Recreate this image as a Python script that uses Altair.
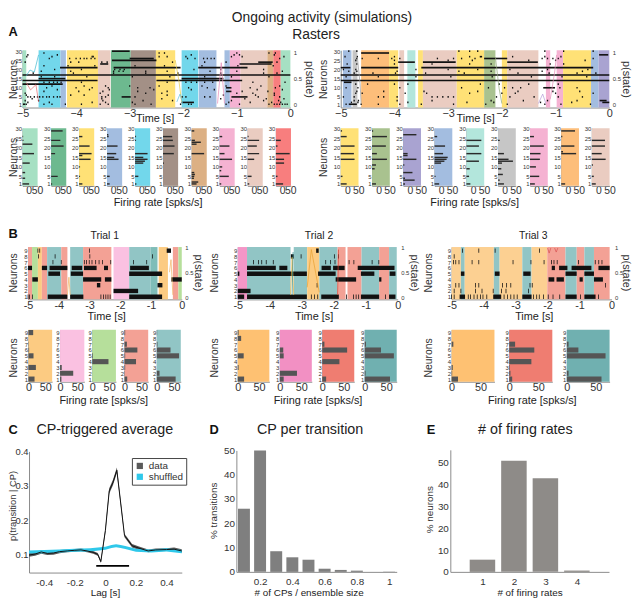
import altair as alt
import pandas as pd

W, H = 632, 593
FONT = "Liberation Sans"
TXT = "#333333"
AXC = "#8a8a8a"

MINT, GREEN, YEL, BLUE, CYAN = "#A6E0C3", "#6DB98F", "#FFE176", "#A3BDE0", "#72D7EB"
BROWN, TAN, PINK, PEACH, RED = "#A39086", "#DCB084", "#F5B2D2", "#EACCC1", "#F87E7E"
ORG, OLIVE, PURP, GRAY = "#FDBE7A", "#A9C28F", "#A9A3D1", "#C6C6C6"
AQUA = "#B3E6DC"
TEAL, SALM, BPINK, BGRN, BORG = "#91C5C5", "#F3A195", "#FAC1E1", "#B6DF9B", "#FCCB82"
PINK2, ORG3 = "#F496C7", "#FCD092"
HORG, HPINK, HRED, HTEAL = "#FEC172", "#F290C3", "#EF7D71", "#70B0B0"

# ---------- Panel A rasters ----------
AL_EDGES = [-5, -4.93, -4.70, -4.29, -4.19, -4.17, -3.59, -3.36, -3.35, -2.98, -2.51, -2.15, -2.03, -1.72, -1.71, -1.38, -1.23, -1.13, -0.93, -0.43, -0.32, -0.18, 0]
AL_COLORS = [MINT, None, CYAN, BLUE, None, YEL, PEACH, None, GREEN, BROWN, YEL, None, CYAN, None, BLUE, None, BLUE, PINK, PEACH, TAN, RED, MINT]
AL_RUNS = [(17, -5, 0), (15, -4.7, -4.2), (15, -2.03, -1.25), (14, -5, -3.6), (14, -2.5, -0.9), (12, -5, -4.25),
           (21, -4.3, -3.6), (21, -3.3, -2.05), (21, -1.72, -0.8), (25, -3.33, -2.5), (26, -3.0, -2.55),
           (23, -3.55, -3.4), (23, -0.95, -0.35), (24, -0.6, -0.33), (30, -3.33, -3.0), (5, -3.15, -2.98),
           (5, -1.1, -0.8), (2, -2.03, -1.8), (8, -1.2, -1.1), (10, -1.2, -1.1)]
AL_DOTS = {
    1: [-4.98, -4.96, -4.93, -4.6, -4.45, -4.2, -3.9, -3.55, -3.4, -2.9, -2.6, -2.05, -1.9, -1.85, -1.2, -0.95, -0.4, -0.3, -0.25, -0.2, -0.15, -0.1, -0.06],
    2: [-4.9, -4.5, -3.7, -3.45, -2.95, -1.15, -0.75, -0.35, -0.18],
    3: [-4.95, -4.7, -3.5, -2.75, -2.2, -1.1, -0.5, -0.22],
    4: [-4.82, -3.52, -2.4, -1.3, -0.85, -0.45, -0.12],
    5: [-4.9, -4.85, -4.78, -4.72, -4.68, -4.62, -4.55, -4.5, -4.42, -4.35, -4.3, -3.52, -3.45, -2.9, -2.02, -1.95, -1.6, -1.5, -0.6, -0.2],
    6: [-4.93, -4.1, -3.85, -3.4, -2.3, -1.25, -0.65, -0.3],
    7: [-4.95, -3.55, -2.7, -2.4, -1.0, -0.7, -0.3],
    8: [-4.6, -3.95, -3.5, -2.85, -2.3, -0.9, -0.42],
    9: [-4.35, -3.75, -3.38, -2.55, -1.85, -1.42, -0.62, -0.15],
    10: [-4.55, -4.0, -3.7, -3.4, -2.85, -2.62, -1.9, -1.55, -0.75, -0.28],
    11: [-4.45, -3.85, -3.45, -3.0, -2.45, -1.65, -1.2, -0.55, -0.2],
    13: [-4.6, -4.5, -4.42, -4.35, -4.28, -3.9, -2.3, -1.95, -1.85, -1.75, -1.6, -1.45, -0.7, -0.1],
    16: [-4.65, -4.4, -3.8, -2.95, -2.25, -1.6, -1.1, -0.4],
    18: [-4.8, -4.05, -3.3, -2.7, -2.1, -1.3, -0.5, -0.25],
    19: [-4.65, -4.1, -3.3, -3.2, -3.12, -2.7, -2.3, -1.5, -1.0, -0.15],
    20: [-4.4, -3.9, -3.28, -3.18, -3.1, -1.8, -1.3, -0.5],
    22: [-4.6, -4.15, -3.65, -2.9, -2.35, -1.65, -0.98, -0.32],
    24: [-4.95, -4.1, -3.95, -3.52, -3.42, -2.2, -1.6, -1.2, -0.25],
    26: [-4.5, -4.12, -4.0, -3.92, -3.85, -3.8, -3.72, -3.65, -1.92, -1.78, -1.62, -1.55, -1.48, -1.42, -0.2],
    27: [-4.92, -4.45, -3.7, -3.68, -2.45, -2.3, -1.95, -1.1, -0.9, -0.12],
    28: [-4.9, -4.35, -1.85, -1.05, -0.95, -0.3],
    29: [-4.6, -2.45, -2.35, -1.0, -0.4, -0.28],
}
AL_P = [("a", -4.93, 0.55, "#3BB8D0"), ("a", -4.86, 0.66, "#3BB8D0"), ("a", -4.78, 0.62, "#3BB8D0"), ("a", -4.70, 0.95, "#3BB8D0"),
        ("b", -4.93, 0.42, "#E0686C"), ("b", -4.85, 0.28, "#E0686C"), ("b", -4.75, 0.38, "#E0686C"), ("b", -4.70, 0.05, "#E0686C"),
        ("c", -2.15, 0.85, "#E8C840"), ("c", -2.08, 0.45, "#E8C840"), ("c", -2.03, 0.05, "#E8C840"),
        ("d", -2.12, 0.05, "#5FC0DC"), ("d", -2.06, 0.2, "#5FC0DC"), ("d", -2.01, 0.02, "#5FC0DC"),
        ("e", -1.36, 0.02, "#E889B8"), ("e", -1.29, 0.8, "#E889B8"), ("e", -1.23, 0.02, "#E889B8")]

AR_EDGES = [-4.96, -4.80, -4.78, -4.69, -4.62, -4.10, -3.93, -3.91, -3.82, -3.76, -3.61, -3.56, -3.47, -2.84, -2.33, -2.12, -2.0, -1.9, -1.32, -1.18, -1.10, -0.98, -0.86, -0.34, -0.20, 0]
AR_COLORS = [BLUE, None, GRAY, None, ORG, YEL, None, PEACH, None, AQUA, None, YEL, PEACH, YEL, OLIVE, None, YEL, PEACH, None, PINK, None, PINK, YEL, BLUE, PURP]
AR_RUNS = [(17, -5, 0), (14, -5, 0), (21, -5, -4.82), (21, -4.62, -3.93), (21, -3.5, -0.3), (13, -4.94, -4.8),
           (24, -3.93, -3.62), (24, -3.47, -2.86), (24, -1.9, -1.33), (29, -4.62, -4.1), (28, -0.19, -0.02),
           (26, -2.33, -1.9), (10, -1.23, -1.01), (2, -0.13, 0), (1, -4.85, -4.7), (3, -0.18, -0.05)]
AR_DOTS = {
    1: [-4.9, -4.62, -4.3, -3.9, -3.5, -2.9, -2.3, -1.9, -1.2, -0.9, -0.35],
    2: [-4.8, -4.68, -3.75, -2.65, -2.15, -1.28, -0.7],
    3: [-4.75, -4.67, -3.95, -3.3, -2.2, -1.6, -1.15, -0.6],
    5: [-4.95, -4.75, -4.3, -4.2, -3.95, -3.3, -3.2, -3.1, -3.0, -2.9, -2.1, -1.85, -1.4, -0.95, -0.5],
    7: [-4.72, -4.6, -3.8, -3.4, -2.6, -2.0, -1.75, -1.0, -0.3],
    8: [-4.7, -4.2, -3.45, -2.45, -1.7, -1.05, -0.55],
    10: [-4.9, -4.68, -3.9, -2.75, -2.25, -1.95, -1.8, -1.65, -0.92, -0.6],
    12: [-4.72, -4.5, -4.0, -3.75, -2.4, -2.05, -1.5, -0.95],
    16: [-4.9, -4.3, -3.6, -2.95, -2.18, -1.45, -0.88, -0.42],
    18: [-4.75, -4.4, -3.98, -3.42, -2.7, -1.7, -1.12, -0.6, -0.25],
    19: [-4.85, -4.7, -3.95, -2.8, -2.2, -1.25, -0.5],
    20: [-4.95, -4.72, -3.6, -3.0, -2.45, -1.85, -1.15, -0.4],
    23: [-4.88, -4.7, -4.0, -3.3, -2.6, -2.2, -1.1, -0.85],
    25: [-4.72, -4.0, -3.0, -2.55, -1.5, -1.0, -0.45],
    26: [-4.7, -4.6, -4.3, -4.05, -3.9, -3.2, -2.9, -2.75, -2.5, -1.25, -1.15, -1.05, -0.95, -0.3],
    27: [-4.92, -4.69, -4.0, -2.6, -2.4, -2.38, -1.8, -1.2, -0.9],
    30: [-4.85, -4.7, -2.8, -2.6, -2.45, -1.2, -0.85, -0.3],
}
AR_P = [("a", -1.32, 0.02, "#B49BD8"), ("a", -1.24, 0.2, "#B49BD8"), ("a", -1.18, 0.02, "#B49BD8"),
        ("b", -1.10, 0.1, "#E889B8"), ("b", -1.02, 0.6, "#E889B8"), ("b", -0.98, 0.95, "#E889B8"),
        ("c", -2.12, 0.9, "#8FA878"), ("c", -2.05, 0.3, "#8FA878"), ("c", -2.0, 0.02, "#8FA878"),
        ("d", -4.69, 0.9, "#999999"), ("d", -4.64, 0.4, "#999999"), ("d", -4.62, 0.02, "#999999")]

# ---------- Panel A firing-rate bars ----------
AL_LEFT = [22.7, 51.7, 80, 108.3, 136.7, 165, 194, 222.3, 250.7, 279.3]
AL_HCOL = [MINT, GREEN, YEL, BLUE, CYAN, BROWN, TAN, PINK, PEACH, RED]
AL_HIST = [
    {1: 40, 4: 16, 7: 16, 12: 44, 17: 70, 22: 60, 24: 6, 26: 4},
    {1: 6, 5: 40, 17: 24, 21: 76, 24: 56, 29: 70},
    {1: 20, 5: 6, 10: 6, 14: 70, 16: 20, 17: 76, 21: 64, 26: 20},
    {1: 16, 5: 16, 14: 70, 15: 44, 17: 56, 21: 64, 26: 10, 27: 8},
    {1: 8, 5: 20, 12: 50, 13: 60, 14: 76, 15: 50, 17: 76, 24: 6, 26: 6},
    {12: 6, 17: 66, 21: 70, 24: 60, 26: 56},
    {1: 30, 2: 40, 4: 14, 5: 16, 6: 20, 7: 16, 17: 76, 22: 30, 23: 56, 24: 20, 29: 16},
    {1: 10, 5: 56, 8: 10, 10: 16, 14: 76, 17: 30, 21: 60, 26: 16},
    {1: 10, 5: 24, 14: 40, 17: 70, 21: 56, 24: 70, 26: 6},
    {1: 44, 5: 10, 12: 50, 14: 50, 17: 84, 21: 10, 24: 30},
]
AR_LEFT = [345, 376.7, 408.3, 440, 472.3, 504.3, 536.7, 568.3, 599.3]
AR_HCOL = [YEL, OLIVE, PURP, BLUE, AQUA, GRAY, PINK, ORG, PEACH]
AR_HIST = [
    {1: 27, 5: 8, 14: 63, 17: 60, 21: 63, 26: 27, 29: 6},
    {1: 18, 9: 12, 11: 18, 14: 68, 17: 22, 21: 63, 26: 68, 29: 5},
    {1: 8, 3: 52, 4: 8, 7: 42, 11: 5, 14: 60, 16: 20, 17: 20, 27: 60},
    {1: 21, 5: 5, 12: 30, 13: 45, 14: 55, 15: 60, 17: 39, 21: 48, 26: 12},
    {1: 18, 5: 12, 9: 15, 13: 57, 17: 68, 21: 57, 24: 68},
    {1: 27, 3: 8, 6: 22, 9: 15, 12: 18, 13: 68, 14: 48, 17: 27, 24: 8},
    {1: 22, 5: 42, 10: 27, 14: 45, 17: 48, 21: 63, 26: 18},
    {1: 18, 17: 68, 18: 8, 21: 60, 26: 5, 29: 63},
    {1: 18, 5: 9, 11: 5, 14: 63, 17: 45, 21: 60, 24: 60},
]

# ---------- Panel B rasters ----------
T1_EDGES = [-5, -4.87, -4.68, -4.55, -4.38, -3.92, -3.72, -3.63, -3.21, -2.29, -2.22, -1.71, -1.01, -0.79, -0.75, -0.45, -0.29, -0.11, 0]
T1_COLORS = [SALM, BGRN, BORG, SALM, TEAL, SALM, None, TEAL, SALM, None, BPINK, TEAL, "#7FBDB8", None, BORG, None, SALM, BGRN]
T1_RUNS = [(6, -5, -4.87), (6, -4.55, -4.38), (6, -4.3, -3.72), (6, -3.58, -3.24), (6, -3.18, -2.77), (6, -2.53, -2.4), (6, -1.68, -1.07),
           (5, -4.34, -3.96), (5, -3.61, -3.21), (5, -1.71, -0.64), (4, -4.86, -4.68), (4, -3.21, -2.62), (4, -2.5, -2.29), (4, -0.34, 0),
           (3, -2.76, -2.65), (3, -0.79, -0.63), (2, -2.22, -1.42), (1, -4.36, -3.72), (1, -3.63, -3.2), (1, -1.71, -0.64), (9, -0.49, -0.35)]
T1_TICKS = {7: [-4.19, -3.92, -3.17, -3.1, -3.01, -2.92, -2.8, -2.69, -2.58, -2.31, -1.57, -1.14],
            8: [-4.66, -4.12, -2.99, -0.95],
            9: [-4.68, -4.62, -3.0],
            1: [-5, -4.95, -4.86, -2.63, -2.55, -2.47, -2.4, -2.33]}
T1_P = [("a", -0.45, 0.02, BORG), ("a", -0.4, 0.5, "#F0B060"), ("a", -0.35, 0.75, "#F0B060"), ("a", -0.29, 0.05, "#F0B060"),
        ("b", -3.72, 0.05, "#F0B060"), ("b", -3.67, 0.4, "#F0B060"), ("b", -3.63, 0.05, "#F0B060")]

T2_EDGES = [-5, -4.71, -3.35, -3.25, -2.83, -2.45, -1.88, -1.63, -1.57, -1.13, -0.58, -0.27, -0.03]
T2_COLORS = [PINK2, TEAL, None, TEAL, BORG, TEAL, SALM, None, SALM, TEAL, SALM, TEAL]
T2_RUNS = [(9, -2.55, -2.47), (8, -3.34, -3.25), (6, -4.71, -3.81), (6, -3.7, -3.45), (6, -2.38, -2.09), (6, -2.02, -1.66), (6, -1.25, -0.1),
           (5, -5, -4.95), (5, -4.71, -2.84), (5, -2.49, -1.94), (5, -1.15, -0.73), (5, -0.25, -0.07), (4, -1.94, -1.3), (4, -0.58, -0.51),
           (2, -5, -4.6), (1, -5, -4.8), (1, -4.71, -2.84), (1, -2.39, -1.84), (1, -1.15, -0.58), (1, -0.27, -0.07)]
T2_TICKS = {7: [-4.51, -4.35, -4.25, -4.11, -3.89, -2.25, -2.1, -1.96, -1.52, -1.37, -0.8, -0.59],
            8: [-3.02, -1.98, -1.85],
            3: [-2.52],
            1: [-2.7, -2.6, -2.5, -1.6, -1.38, -1.3, -1.22, -0.38]}
T2_P = [("a", -3.35, 0.05, "#E8B040"), ("a", -3.3, 0.8, "#E8B040"), ("a", -3.25, 0.05, "#E8B040"),
        ("b", -2.83, 0.2, "#E8A030"), ("b", -2.7, 0.95, "#E8A030"), ("b", -2.45, 0.1, "#E8A030"),
        ("c", -3.3, 0.05, "#2A8C8C"), ("c", -3.27, 0.9, "#2A8C8C"), ("d", -1.88, 0.05, "#D44030"), ("d", -1.85, 0.95, "#D44030")]

T3_EDGES = [-5, -4.71, -4.59, -3.68, -3.50, -2.79, -2.50, -2.01, -1.44, -1.09, -0.85, -0.55, -0.06]
T3_COLORS = [ORG3, TEAL, ORG3, TEAL, ORG3, TEAL, ORG3, SALM, TEAL, SALM, TEAL, SALM]
T3_RUNS = [(6, -1.87, -1.77), (6, -1.64, -1.38), (6, -1.25, -0.63), (6, -0.41, -0.06), (5, -4.71, -4.6), (5, -3.65, -3.5), (5, -2.76, -2.53),
           (5, -1.44, -1.09), (5, -0.85, -0.55), (4, -1.97, -1.79), (4, -1.72, -1.49), (4, -1.0, -0.9), (4, -0.55, -0.27),
           (1, -4.75, -4.58), (1, -3.7, -3.45), (1, -2.79, -2.5), (1, -1.44, -1.09), (1, -0.85, -0.5)]
T3_TICKS = {1: [-5, -4.92, -4.48, -4.41, -4.3, -4.2, -4.1, -4.02, -3.9, -3.36, -3.25, -3.15, -3.05, -2.95, -2.44, -2.34, -2.26, -2.13, -1.98, -1.83, -1.62, -0.97, -0.41],
            2: [-4.92, -4.71, -4.25, -4.05, -3.7, -3.44, -3.3, -2.6],
            3: [-4.87, -4.77, -4.25, -4.15, -3.41, -3.28, -3.15, -2.55, -2.48, -0.19],
            7: [-4.94, -4.87, -4.77, -4.36, -4.15, -3.08, -2.52, -2.11, -1.88, -1.8, -1.7, -1.03, -0.51, -0.4, -0.3],
            8: [-4.92],
            9: [-4.66, -4.15, -3.64, -2.25]}
T3_P = [("a", -2.0, 0.98, "#D85050"), ("a", -1.95, 0.88, "#D85050"), ("a", -1.9, 0.98, "#D85050"),
        ("b", -1.78, 0.98, "#D85050"), ("b", -1.73, 0.9, "#D85050"), ("b", -1.68, 0.98, "#D85050")]

# ---------- Panel B firing-rate bars ----------
T1_LEFT = [28.7, 60.7, 93.3, 126, 158.7]
T1_RIGHT = [52.7, 85.3, 117.3, 150, 183]
T1_HCOL = [BORG, BPINK, BGRN, SALM, TEAL]
T1_HIST = [{9: 14, 7: 1, 6: 2, 5: 15, 3: 22, 1: 18}, {3: 5, 2: 38, 1: 4}, {5: 2, 4: 48},
           {9: 2, 7: 7, 6: 38, 5: 2, 4: 34, 3: 2, 2: 1, 1: 8}, {9: 1, 7: 2, 6: 40, 5: 65, 2: 8, 1: 55}]
T2_LEFT = [240.7, 283.3, 326.3, 369.3]
T2_RIGHT = [272.7, 315.7, 358.7, 401.7]
T2_HCOL = [HORG, HPINK, HRED, HTEAL]
T2_HIST = [{9: 2, 8: 8, 5: 14, 3: 2, 1: 15}, {6: 8, 5: 9, 2: 40, 1: 9}, {7: 5, 6: 58, 4: 40, 1: 9}, {7: 3, 6: 38, 5: 68, 2: 2, 1: 59}]
T3_LEFT = [457.3, 515.7, 574]
T3_RIGHT = [500.7, 559.3, 617.3]
T3_HCOL = [HORG, HRED, HTEAL]
T3_HIST = [{7: 3, 3: 2, 2: 1, 1: 11}, {7: 10, 6: 43, 4: 38, 3: 1, 2: 2, 1: 5}, {7: 3, 6: 20, 5: 67, 2: 3, 1: 60}]

# ---------- Panel C ----------
LAG_D = [-0.5, -0.46, -0.42, -0.38, -0.34, -0.3, -0.25, -0.2, -0.16, -0.12, -0.08, -0.05, -0.03, 0.0, 0.025, 0.05, 0.075, 0.125, 0.175, 0.22, 0.28, 0.33, 0.4, 0.45, 0.5]
CTA_D = [0.098, 0.101, 0.107, 0.103, 0.104, 0.108, 0.110, 0.112, 0.113, 0.110, 0.106, 0.100, 0.079, 0.17, 0.285, 0.31, 0.345, 0.155, 0.125, 0.118, 0.110, 0.113, 0.114, 0.115, 0.110]
CTA_ERR = [0.005, 0.005, 0.005, 0.005, 0.005, 0.005, 0.004, 0.004, 0.004, 0.004, 0.004, 0.004, 0.004, 0.006, 0.008, 0.008, 0.008, 0.005, 0.005, 0.005, 0.004, 0.004, 0.004, 0.005, 0.005]
LAG_S = [-0.5, -0.4, -0.3, -0.2, -0.1, 0.0, 0.04, 0.07, 0.1, 0.13, 0.2, 0.3, 0.4, 0.5]
CTA_S = [0.107, 0.108, 0.110, 0.112, 0.113, 0.118, 0.123, 0.125, 0.123, 0.120, 0.112, 0.110, 0.113, 0.108]
SIG_BAR = [-0.06, 0.155]
SIG_Y = [0.064, 0.069]

# ---------- Panels D, E ----------
D_X = [0.1, 0.2, 0.3, 0.4, 0.5, 0.6, 0.7, 0.8, 1.0]
D_Y = [26, 50, 8.5, 6, 5, 1.3, 0.8, 0.5, 0.1]
E_X = [1, 2, 3, 4]
E_Y = [5.6, 51, 43, 0.6]


def xs(dom, x0, x1):
    return alt.Scale(domain=dom, range=[x0 - 8, x1 - 8], nice=False, zero=False)


def ys(dom, ybot, ytop):
    return alt.Scale(domain=dom, range=[ybot - 8, ytop - 8], nice=False, zero=False)


def axis_x(ybot, values, size, pad, hyphen=False, loff=0, fmt=None):
    k = dict(orient="bottom", offset=(ybot - 8) - H, values=values, grid=False, labelFontSize=size, labelPadding=pad,
             labelFont=FONT, labelColor=TXT, domainColor=AXC, tickColor=AXC, tickSize=0, labelOverlap=False,
             labelFlush=False, labelBound=False, labelOffset=loff, title=None)
    if hyphen:
        k["labelExpr"] = "toString(datum.value)"
    if fmt:
        k["format"] = fmt
    return alt.Axis(**k)


def axis_y(x0, values, size, title=None, tx=0, cy=0, tsize=10, pad=1, fmt=None):
    k = dict(orient="left", offset=-(x0 - 8), values=values, grid=False, labelFontSize=size, labelPadding=pad,
             labelFont=FONT, labelColor=TXT, domainColor=AXC, tickColor=AXC, tickSize=0, labelOverlap=False,
             labelBound=False, labelFlush=False, title=title)
    if fmt:
        k["format"] = fmt
    if title:
        k.update(titleFont=FONT, titleFontSize=tsize, titleFontWeight="normal", titleColor=TXT, titleX=tx - x0,
                 titleY=cy - 8, titleAngle=270, titleAlign="center", titleBaseline="middle", titleAnchor="middle")
    return alt.Axis(**k)


def raster(edges, colors, runs, dots, x0, x1, ytop, ybot, ydom, yvals, pdata, p0, p1, half, dotw,
           nx, ny, px, pad=0, hyphen=False, black="#111111"):
    bg = pd.DataFrame([{"t0": a, "t1": b, "n0": ydom[0], "n1": ydom[1], "c": c}
                       for a, b, c in zip(edges[:-1], edges[1:], colors) if c])
    rows = [{"t0": a, "t1": b, "n0": n - half, "n1": n + half} for n, a, b in runs]
    rows += [{"t0": t - dotw, "t1": t + dotw, "n0": n - half, "n1": n + half} for n, ts in dots.items() for t in ts]
    X = alt.X("t0:Q", scale=xs([-5, 0], x0, x1),
              axis=axis_x(ybot, [-5, -4, -3, -2, -1, 0], 11, pad, hyphen))
    Y = alt.Y("n0:Q", scale=ys(ydom, ybot, ytop),
              axis=axis_y(x0, yvals, 6, "Neurons", nx, ny, 10.5, 1))
    a = alt.Chart(bg).mark_rect().encode(x=X, x2="t1:Q", y=Y, y2="n1:Q", color=alt.Color("c:N", scale=None))
    b = alt.Chart(pd.DataFrame(rows)).mark_rect(color=black).encode(x=X, x2="t1:Q", y=Y, y2="n1:Q")
    pdf = pd.DataFrame(pdata, columns=["id", "t", "p", "c"])
    pax = alt.Axis(orient="right", offset=(x1 - 8) - W, values=[0, 0.5, 1], labelFontSize=6, labelFont=FONT,
                   labelColor=TXT, domain=False, ticks=False, grid=False, labelPadding=3, format="~g",
                   title="p(state)", titleFont=FONT, titleFontSize=11, titleFontWeight="normal", titleColor=TXT,
                   titleX=px - x1, titleY=ny - 8, titleAngle=90, titleAlign="center", titleBaseline="middle",
                   labelOverlap=False, labelBound=False, labelFlush=False)
    c = alt.Chart(pdf).mark_line(strokeWidth=0.7).encode(
        x=alt.X("t:Q", scale=xs([-5, 0], x0, x1), axis=None),
        y=alt.Y("p:Q", scale=ys([0, 1], p0, p1), axis=pax),
        detail="id:N", color=alt.Color("c:N", scale=None))
    return [alt.layer(a, b), c]


def hist(rates, color, x0, x1, ytop, ybot, xmax, ydom, yvals, half, barc, fs, pad, loff, nx=None, ny=None):
    title_y = dict(title="Neurons", tx=nx, cy=ny, tsize=10.5) if nx else {}
    X = alt.X("r0:Q", scale=xs([0, xmax], x0, x1), axis=axis_x(ybot, [0, 50], fs, pad, loff=loff))
    Y = alt.Y("n0:Q", scale=ys(ydom, ybot, ytop), axis=axis_y(x0, yvals, 6, **title_y))
    bgd = pd.DataFrame({"r0": [0], "r1": [xmax], "n0": [ydom[0]], "n1": [ydom[1]]})
    a = alt.Chart(bgd).mark_rect(color=color).encode(x=X, x2="r1:Q", y=Y, y2="n1:Q")
    d = pd.DataFrame([{"r0": 0, "r1": v, "n0": n - half, "n1": n + half} for n, v in rates.items()])
    b = alt.Chart(d).mark_rect(color=barc).encode(x=X, x2="r1:Q", y=Y, y2="n1:Q")
    return alt.layer(a, b)


def label(text, x, y, size=11, bold=False, align="center", color="#222222", font=FONT):
    return alt.Chart(pd.DataFrame({"label": [text]})).mark_text(
        font=font, fontSize=size, fontWeight="bold" if bold else "normal", align=align, baseline="middle", color=color
    ).encode(x=alt.value(x - 8), y=alt.value(y - 8), text="label:N")


panels = []
YA = [1, 5, 10, 15, 20, 25, 30]
YB = [1, 2, 3, 4, 5, 6, 7, 8, 9]

panels += raster(AL_EDGES, AL_COLORS, AL_RUNS, AL_DOTS, 22.7, 294, 47, 105, [-0.8, 30.5], YA, AL_P, 102, 49,
                 0.44, 0.012, 13.5, 76, 312, pad=0)
panels += raster(AR_EDGES, AR_COLORS, AR_RUNS, AR_DOTS, 345, 617, 47, 105, [-0.8, 30.5], YA, AR_P, 102, 49,
                 0.44, 0.012, 328, 76, 633, pad=0)

for i, (l, r, c) in enumerate(zip(AL_LEFT, AL_HIST, AL_HCOL)):
    kw = dict(nx=13.5, ny=155) if i == 0 else {}
    panels.append(hist(r, c, l, l + 15.3, 126, 184.3, 92, [0, 30.4], YA, 0.38, "#2a2a2a", 10.5, 0, 6.3, **kw))
for i, (l, r, c) in enumerate(zip(AR_LEFT, AR_HIST, AR_HCOL)):
    kw = dict(nx=328, ny=155) if i == 0 else {}
    panels.append(hist(r, c, l, l + 18, 126, 184.3, 81, [0, 30.4], YA, 0.38, "#2a2a2a", 10.5, 0, 6.7, **kw))

YD = [0.54, 9.63]
panels += raster(T1_EDGES, T1_COLORS, T1_RUNS, T1_TICKS, 28.3, 184, 246.3, 299.3, YD, YB, T1_P, 297.3, 246.3,
                 0.38, 0.012, 13.5, 272, 200, hyphen=True)
panels += raster(T2_EDGES, T2_COLORS, T2_RUNS, T2_TICKS, 240.7, 402.7, 246.3, 299.3, YD, YB, T2_P, 297.3, 246.3,
                 0.38, 0.012, 216.7, 272, 419, hyphen=True)
panels += raster(T3_EDGES, T3_COLORS, T3_RUNS, T3_TICKS, 457.3, 619.3, 246.3, 299.3, YD, YB, T3_P, 297.3, 246.3,
                 0.38, 0.012, 434, 272, 633, hyphen=True)

YH = [0.55, 9.5]
for i, (l, e, r, c) in enumerate(zip(T1_LEFT, T1_RIGHT, T1_HIST, T1_HCOL)):
    kw = dict(nx=13.5, ny=358) if i == 0 else {}
    panels.append(hist(r, c, l, e, 330, 382.7, 70, YH, YB, 0.44, "#555555", 11, 0, 0, **kw))
for i, (l, e, r, c) in enumerate(zip(T2_LEFT, T2_RIGHT, T2_HIST, T2_HCOL)):
    kw = dict(nx=216.7, ny=358) if i == 0 else {}
    panels.append(hist(r, c, l, e, 330, 382.7, 74.6, YH, YB, 0.44, "#555555", 11, 0, 0, **kw))
for i, (l, e, r, c) in enumerate(zip(T3_LEFT, T3_RIGHT, T3_HIST, T3_HCOL)):
    kw = dict(nx=434, ny=358) if i == 0 else {}
    panels.append(hist(r, c, l, e, 330, 382.7, 74, YH, YB, 0.44, "#555555", 11, 0, 0, **kw))

# Panel C
CX = alt.X("lag:Q", scale=xs([-0.5, 0.5], 29.3, 184), axis=axis_x(576, [-0.4, -0.2, 0, 0.2, 0.4], 10, 5, True))
CY = alt.Y("lo:Q", scale=ys([0.047, 0.4], 576, 453.3),
           axis=axis_y(29.3, [0.1, 0.2, 0.3, 0.4], 9.5, "p(transition | CP)", 12.5, 508, 9.5, 1, ".1f"))
CC = alt.Color("series:N", scale=alt.Scale(domain=["data", "shuffled"], range=["#5a5a5a", "#2FC8EA"]),
               legend=alt.Legend(orient="none", legendX=125.5, legendY=452, title=None, strokeColor="#444444",
                                 padding=3, labelFont=FONT, labelFontSize=10, labelColor=TXT, symbolType="square",
                                 symbolSize=40, rowPadding=1, symbolStrokeWidth=0))
c_d = pd.DataFrame({"lag": LAG_D, "lo": [v - e for v, e in zip(CTA_D, CTA_ERR)],
                    "hi": [v + e for v, e in zip(CTA_D, CTA_ERR)], "mid": CTA_D, "series": "data"})
c_s = pd.DataFrame({"lag": LAG_S, "lo": [v - 0.0045 for v in CTA_S], "hi": [v + 0.0045 for v in CTA_S], "mid": CTA_S,
                    "series": "shuffled"})
c_b = pd.DataFrame({"lag": [SIG_BAR[0]], "lag2": [SIG_BAR[1]], "lo": [SIG_Y[0]], "hi": [SIG_Y[1]]})
panel_c = alt.layer(
    alt.Chart(c_d).mark_area().encode(x=CX, y=CY, y2="hi:Q", color=CC),
    alt.Chart(c_s).mark_area().encode(x=CX, y=CY, y2="hi:Q", color=CC),
    alt.Chart(c_d).mark_line(color="#111111", strokeWidth=1).encode(
        x=CX, y=alt.Y("mid:Q", scale=ys([0.047, 0.4], 576, 453.3))),
    alt.Chart(c_b).mark_rect(color="#000000").encode(x=CX, x2="lag2:Q", y=CY, y2="hi:Q"),
)
panels.append(panel_c)

# Panel D
d_df = pd.DataFrame({"c0": [v - 0.037 for v in D_X], "c1": [v + 0.037 for v in D_X], "v0": 0, "v": D_Y})
panels.append(alt.Chart(d_df).mark_rect(color="#7F7F7F").encode(
    x=alt.X("c0:Q", scale=xs([0.053, 1.047], 239.3, 401.7),
            axis=axis_x(575.3, [0.2, 0.4, 0.6, 0.8, 1], 10, 5, fmt="~g")),
    x2="c1:Q",
    y=alt.Y("v0:Q", scale=ys([0, 50], 575.3, 452.3),
            axis=axis_y(239.3, [0, 10, 20, 30, 40, 50], 10, "% transitions", 216, 513, 10, 2)),
    y2="v:Q"))

# Panel E
e_df = pd.DataFrame({"c0": [v - 0.405 for v in E_X], "c1": [v + 0.405 for v in E_X], "v0": 0, "v": E_Y})
panels.append(alt.Chart(e_df).mark_rect(color="#8E8B88").encode(
    x=alt.X("c0:Q", scale=xs([-0.02, 5.02], 456, 616.7), axis=axis_x(575.3, [1, 2, 3, 4], 10, 5)),
    x2="c1:Q",
    y=alt.Y("v0:Q", scale=ys([0, 56], 575.3, 451.7),
            axis=axis_y(456, [0, 10, 20, 30, 40, 50], 10, "% neurons", 435, 511.7, 10, 2)),
    y2="v:Q"))

texts = [
    label("Ongoing activity (simulations)", 326, 14, 14),
    label("Rasters", 320, 31.5, 14),
    label("Time [s]", 157, 117, 11),
    label("Time [s]", 481.7, 117, 11),
    label("Firing rate [spks/s]", 160, 202, 11),
    label("Firing rate [spks/s]", 480.7, 202, 11),
    label("Trial 1", 106, 235, 10.5),
    label("Trial 2", 323, 235, 10.5),
    label("Trial 3", 540, 235, 10.5),
    label("Time [s]", 108, 317.5, 11),
    label("Time [s]", 318, 317.5, 11),
    label("Time [s]", 541, 317.5, 11),
    label("Firing rate [spks/s]", 105, 402, 11),
    label("Firing rate [spks/s]", 322, 402, 11),
    label("Firing rate [spks/s]", 539, 402, 11),
    label("CP-triggered average", 106, 432, 14.5),
    label("CP per transition", 314, 432, 14.5),
    label("# of firing rates", 532, 432, 14.5),
    label("Lag [s]", 106.7, 597, 10),
    label("# of CPs / ensemble size", 313, 597, 10),
    label("# of firing rates", 536.7, 597, 10),
    label("A", 8.5, 29, 13, True, "left", "#111111"),
    label("B", 8.5, 233, 13, True, "left", "#111111"),
    label("C", 8.5, 432, 13, True, "left", "#111111"),
    label("D", 212, 432, 13, True, "left", "#111111"),
    label("E", 432, 432, 13, True, "left", "#111111"),
]

chart = alt.layer(*panels, *texts).resolve_scale(x="independent", y="independent").properties(
    width=W, height=H, padding=0, autosize="none"
).configure_view(stroke=None)

chart.save("out.html", embed_options={"renderer": "svg", "actions": False})
